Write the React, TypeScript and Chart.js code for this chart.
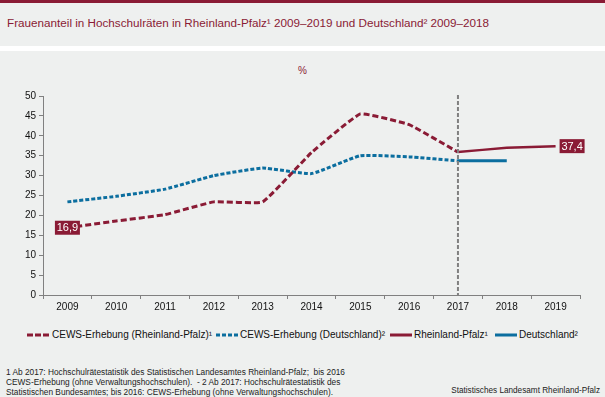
import React, { useEffect, useRef } from "react";
import { Chart, registerables } from "chart.js";

Chart.register(...registerables);

const years = ["2009", "2010", "2011", "2012", "2013", "2014", "2015", "2016", "2017", "2018", "2019"];
const cewsRlp = [16.9, 18.6, 20.2, 23.4, 23.4, 35.8, 45.5, 42.8, 35.9, null, null];
const cewsDe = [23.4, 24.8, 26.6, 30.0, 31.9, 30.5, 35.0, 34.7, 33.7, null, null];
const rlp = [null, null, null, null, null, null, null, null, 35.9, 37.0, 37.4];
const de = [null, null, null, null, null, null, null, null, 33.7, 33.7, null];
const yTicksMax = 50;
const yStep = 5;
const breakYear = "2017";

const RED = "#8a1b35";
const BLUE = "#0b6e9f";
const BG = "#eef0ef";
const FONT = "'Liberation Sans', Arial, sans-serif";

const legendItems = [
  { label: "CEWS-Erhebung (Rheinland-Pfalz)¹", color: RED, dash: "6 2", w: 3, sx: 27, tx: 52 },
  { label: "CEWS-Erhebung (Deutschland)²", color: BLUE, dash: "4 2", w: 3, sx: 216, tx: 240 },
  { label: "Rheinland-Pfalz¹", color: RED, dash: "", w: 3, sx: 390, tx: 414 },
  { label: "Deutschland²", color: BLUE, dash: "", w: 3, sx: 495, tx: 519 },
];

const footLines = [
  "1 Ab 2017: Hochschulrätestatistik des Statistischen Landesamtes Rheinland-Pfalz;  bis 2016",
  "CEWS-Erhebung (ohne Verwaltungshochschulen).  - 2 Ab 2017: Hochschulrätestatistik des",
  "Statistischen Bundesamtes; bis 2016: CEWS-Erhebung (ohne Verwaltungshochschulen).",
];

const overlayPlugin = {
  id: "overlay",
  afterDatasetsDraw(chart: any) {
    const ctx = chart.ctx;
    const xs = chart.scales.x;
    const ys = chart.scales.y;
    const bx = xs.getPixelForValue(years.indexOf(breakYear));
    ctx.save();
    ctx.strokeStyle = "#808080";
    ctx.lineWidth = 2;
    ctx.setLineDash([4, 2]);
    ctx.beginPath();
    ctx.moveTo(bx, ys.top - 1);
    ctx.lineTo(bx, ys.bottom);
    ctx.stroke();
    ctx.restore();

    const drawBox = (dsIndex: number, idx: number, mode: "center" | "right") => {
      const meta = chart.getDatasetMeta(dsIndex);
      const pt = meta.data[idx];
      const v = chart.data.datasets[dsIndex].data[idx];
      const text = String(v).replace(".", ",");
      const w = 25;
      const h = 14;
      const left = mode === "center" ? pt.x - w / 2 : pt.x + 4;
      const top = pt.y - h / 2;
      ctx.save();
      ctx.fillStyle = RED;
      ctx.fillRect(left, top, w, h);
      ctx.fillStyle = "#ffffff";
      ctx.font = `11px ${FONT}`;
      ctx.textAlign = "center";
      ctx.textBaseline = "middle";
      ctx.fillText(text, left + w / 2, top + h / 2 + 0.5);
      ctx.restore();
    };
    drawBox(0, 0, "center");
    drawBox(2, years.length - 1, "right");
  },
};

export default function App() {
  const ref = useRef<HTMLCanvasElement>(null);

  useEffect(() => {
    document.body.style.margin = "0";
    const canvas = ref.current!;
    const chart = new Chart(canvas, {
      type: "line",
      data: {
        labels: years,
        datasets: [
          { label: "cewsRlp", data: cewsRlp, borderColor: RED, borderWidth: 3, borderDash: [6, 3], pointRadius: 0, tension: 0.1 },
          { label: "cewsDe", data: cewsDe, borderColor: BLUE, borderWidth: 3, borderDash: [4, 2], pointRadius: 0, tension: 0.12 },
          { label: "rlp", data: rlp, borderColor: RED, borderWidth: 2.5, pointRadius: 0, tension: 0.1 },
          { label: "de", data: de, borderColor: BLUE, borderWidth: 3, pointRadius: 0, tension: 0 },
        ] as any,
      },
      options: {
        animation: false,
        responsive: false,
        maintainAspectRatio: false,
        layout: { padding: { top: 45, right: 25, left: 0, bottom: 0 } },
        plugins: { legend: { display: false }, tooltip: { enabled: false } },
        scales: {
          x: {
            type: "category",
            offset: true,
            grid: { display: true, drawOnChartArea: false, drawTicks: true, tickLength: 4, color: "#808080", offset: true },
            border: { color: "#808080", width: 1 },
            ticks: { color: "#111", font: { family: FONT, size: 10 }, padding: 2, maxRotation: 0, autoSkip: false },
            afterFit: (s: any) => { s.height = 18; },
          },
          y: {
            min: 0,
            max: yTicksMax,
            ticks: { stepSize: yStep, color: "#111", font: { family: FONT, size: 10 }, padding: 3 },
            grid: { display: true, drawOnChartArea: false, drawTicks: true, tickLength: 4, color: "#808080" },
            border: { color: "#808080", width: 1 },
            afterFit: (s: any) => { s.width = 43; },
          },
        },
      } as any,
      plugins: [overlayPlugin],
    });
    return () => chart.destroy();
  }, []);

  return (
    <div style={{ position: "absolute", left: 0, top: 0, width: 605, height: 397, background: "#ffffff", overflow: "hidden", fontFamily: FONT }}>
      <div style={{ position: "absolute", left: 0, top: 0, width: 605, height: 46, background: BG }} />
      <div style={{ position: "absolute", left: 0, top: 0, width: 605, height: 3, background: RED }} />
      <div style={{ position: "absolute", left: 0, top: 51, width: 605, height: 346, background: BG }} />
      <div style={{ position: "absolute", left: 7, top: 15, fontSize: 11.7, lineHeight: "16px", color: RED, whiteSpace: "nowrap" }}>
        Frauenanteil in Hochschulräten in Rheinland-Pfalz¹ 2009–2019 und Deutschland² 2009–2018
      </div>
      <div style={{ position: "absolute", left: 0, width: 605, top: 65, textAlign: "center", fontSize: 10, lineHeight: "12px", color: RED }}>%</div>
      <canvas ref={ref} width={605} height={262} style={{ position: "absolute", left: 0, top: 51, width: 605, height: 262 }} />
      {legendItems.map((it) => (
        <React.Fragment key={it.label}>
          <svg style={{ position: "absolute", left: it.sx, top: 332 }} width={22} height={6}>
            <line x1={0} y1={3} x2={22} y2={3} stroke={it.color} strokeWidth={it.w} strokeDasharray={it.dash || undefined} />
          </svg>
          <div style={{ position: "absolute", left: it.tx, top: 329, fontSize: 10, lineHeight: "12px", color: "#111", whiteSpace: "nowrap" }}>{it.label}</div>
        </React.Fragment>
      ))}
      {footLines.map((l, i) => (
        <div key={i} style={{ position: "absolute", left: 6, top: 367 + i * 10, fontSize: 8.3, lineHeight: "10px", color: "#222", whiteSpace: "pre" }}>{l}</div>
      ))}
      <div style={{ position: "absolute", right: 5, top: 386, fontSize: 8.2, lineHeight: "10px", color: "#222", whiteSpace: "nowrap" }}>Statistisches Landesamt Rheinland-Pfalz</div>
    </div>
  );
}
